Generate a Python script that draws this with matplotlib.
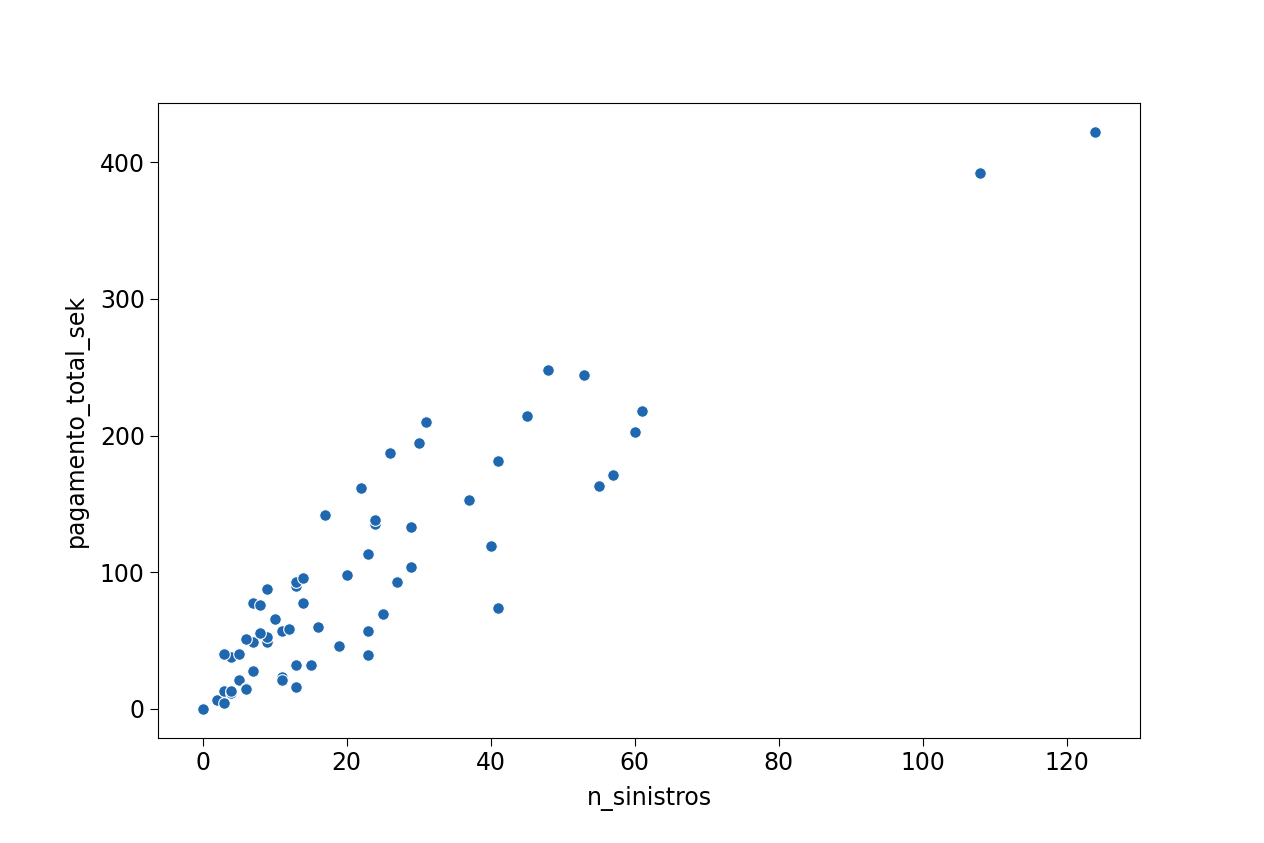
import matplotlib
matplotlib.use("Agg")
import matplotlib.pyplot as plt

n_sinistros = [108,19,13,124,40,57,23,14,45,10,5,48,11,23,7,2,24,6,3,23,6,9,9,3,29,7,4,20,7,4,0,25,6,5,22,11,61,12,4,16,13,60,41,37,55,41,11,27,8,3,17,13,13,15,8,29,30,24,9,31,14,53,26]
pagamento_total_sek = [392.5,46.2,15.7,422.2,119.4,170.9,56.9,77.5,214,65.3,20.9,248.1,23.5,39.6,48.8,6.6,134.9,50.9,4.4,113,14.8,48.7,52.1,13.2,103.9,77.5,11.8,98.1,27.9,38.1,0,69.2,14.6,40.3,161.5,57.2,217.6,58.1,12.6,59.6,89.9,202.4,181.3,152.8,162.8,73.4,21.3,92.6,76.1,39.9,142.1,93,31.9,32.1,55.6,133.3,194.5,137.9,87.4,209.8,95.5,244.6,187.5]

plt.rcParams['font.size'] = 17
fig = plt.figure(figsize=(12.64, 8.43), dpi=100)
ax = fig.add_axes([158/1264, 1-738/843, (1140-158)/1264, (738-103)/843])
ax.scatter(n_sinistros, pagamento_total_sek, s=70, color='#1f67ae', edgecolors='white', linewidths=0.8)
ax.set_xlim(-6.2, 130.2)
ax.set_ylim(-21.5, 443.5)
ax.set_xticks(range(0, 121, 20))
ax.set_yticks(range(0, 401, 100))
ax.tick_params(length=6)
ax.set_xlabel('n_sinistros', labelpad=8)
ax.set_ylabel('pagamento_total_sek', labelpad=8)
fig.savefig('out.png', dpi=100)
